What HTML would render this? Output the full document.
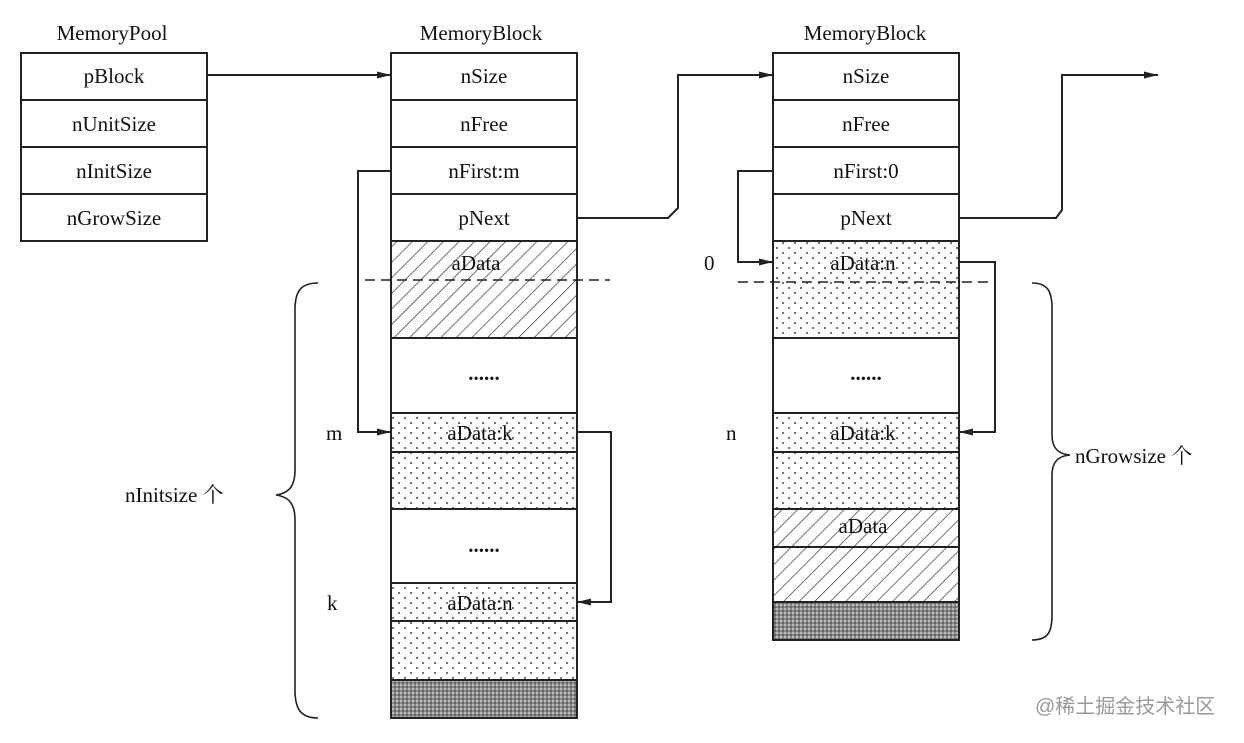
<!DOCTYPE html>
<html><head><meta charset="utf-8"><style>
html,body{margin:0;padding:0;background:#fff;}
svg text{font-family:"Liberation Serif","Noto Serif CJK SC",serif;font-size:21px;fill:#111;}
</style></head><body>
<svg width="1244" height="738" viewBox="0 0 1244 738" xmlns="http://www.w3.org/2000/svg">
<defs>
<pattern id="hatch" width="11" height="11" patternUnits="userSpaceOnUse" patternTransform="rotate(45)">
<line x1="0" y1="0" x2="0" y2="11" stroke="#333" stroke-width="1.4"/>
</pattern>
<pattern id="dots" width="12" height="10" patternUnits="userSpaceOnUse">
<circle cx="3" cy="3" r="1.1" fill="#666"/><circle cx="9" cy="8" r="1.1" fill="#666"/>
</pattern>
<pattern id="dark" width="4" height="4" patternUnits="userSpaceOnUse">
<rect width="4" height="4" fill="#888"/><rect width="2" height="2" fill="#bbb"/><rect x="2" y="2" width="2" height="2" fill="#666"/>
</pattern>
<marker id="ar" markerWidth="14" markerHeight="10" refX="14" refY="5" orient="auto" markerUnits="userSpaceOnUse">
<path d="M0,1.5 L14,5 L0,8.5 Z" fill="#222"/>
</marker>
</defs>
<g stroke="#222" stroke-width="2" fill="none">
<rect x="21" y="53" width="186" height="188" fill="#fff"/>
<line x1="21" y1="100" x2="207" y2="100"/><line x1="21" y1="147" x2="207" y2="147"/><line x1="21" y1="194" x2="207" y2="194"/>
<rect x="391" y="241" width="186" height="97" fill="url(#hatch)"/>
<rect x="391" y="413" width="186" height="96" fill="url(#dots)"/>
<rect x="391" y="583" width="186" height="97" fill="url(#dots)"/>
<rect x="391" y="680" width="186" height="38" fill="url(#dark)"/>
<rect x="391" y="53" width="186" height="665"/>
<line x1="391" y1="100" x2="577" y2="100"/><line x1="391" y1="147" x2="577" y2="147"/><line x1="391" y1="194" x2="577" y2="194"/><line x1="391" y1="241" x2="577" y2="241"/>
<line x1="391" y1="338" x2="577" y2="338"/><line x1="391" y1="413" x2="577" y2="413"/><line x1="391" y1="452" x2="577" y2="452"/><line x1="391" y1="509" x2="577" y2="509"/><line x1="391" y1="583" x2="577" y2="583"/><line x1="391" y1="621" x2="577" y2="621"/><line x1="391" y1="680" x2="577" y2="680"/>
<rect x="773" y="241" width="186" height="97" fill="url(#dots)"/>
<rect x="773" y="413" width="186" height="96" fill="url(#dots)"/>
<rect x="773" y="509" width="186" height="93" fill="url(#hatch)"/>
<rect x="773" y="602" width="186" height="38" fill="url(#dark)"/>
<rect x="773" y="53" width="186" height="587"/>
<line x1="773" y1="100" x2="959" y2="100"/><line x1="773" y1="147" x2="959" y2="147"/><line x1="773" y1="194" x2="959" y2="194"/><line x1="773" y1="241" x2="959" y2="241"/>
<line x1="773" y1="338" x2="959" y2="338"/><line x1="773" y1="413" x2="959" y2="413"/><line x1="773" y1="452" x2="959" y2="452"/><line x1="773" y1="509" x2="959" y2="509"/><line x1="773" y1="547" x2="959" y2="547"/><line x1="773" y1="602" x2="959" y2="602"/>
<line x1="365" y1="280" x2="610" y2="280" stroke-dasharray="10,6" stroke-width="1.6"/>
<line x1="738" y1="282" x2="995" y2="282" stroke-dasharray="10,6" stroke-width="1.6"/>
<polyline points="207,75 391,75" marker-end="url(#ar)"/>
<polyline points="577,218 668,218 678,208 678,75 773,75" marker-end="url(#ar)"/>
<polyline points="959,218 1056,218 1062,210 1062,75 1158,75" marker-end="url(#ar)"/>
<polyline points="391,171 358,171 358,432 391,432" marker-end="url(#ar)"/>
<polyline points="577,432 611,432 611,602 577,602" marker-end="url(#ar)"/>
<polyline points="773,171 738,171 738,262 773,262" marker-end="url(#ar)"/>
<polyline points="959,262 995,262 995,432 959,432" marker-end="url(#ar)"/>
<path d="M318,283 C300,283 295,292 295,310 L295,470 C295,485 290,493 276,495 C290,497 295,505 295,520 L295,690 C295,708 300,718 318,718" stroke-width="1.6"/>
<path d="M1032,283 C1048,283 1052,292 1052,308 L1052,435 C1052,448 1058,454 1070,455 C1058,456 1052,462 1052,475 L1052,615 C1052,632 1048,640 1032,640" stroke-width="1.6"/>
</g>
<g text-anchor="middle">
<text x="112" y="40">MemoryPool</text>
<text x="481" y="40">MemoryBlock</text>
<text x="865" y="40">MemoryBlock</text>
<text x="114" y="83">pBlock</text>
<text x="114" y="131">nUnitSize</text>
<text x="114" y="178">nInitSize</text>
<text x="114" y="225">nGrowSize</text>
<text x="484" y="83">nSize</text>
<text x="484" y="131">nFree</text>
<text x="484" y="178">nFirst:m</text>
<text x="484" y="225">pNext</text>
<text x="476" y="270">aData</text>
<text x="484" y="380" style="font-weight:bold">......</text>
<text x="480" y="440">aData:k</text>
<text x="484" y="552" style="font-weight:bold">......</text>
<text x="480" y="610">aData:n</text>
<text x="866" y="83">nSize</text>
<text x="866" y="131">nFree</text>
<text x="866" y="178">nFirst:0</text>
<text x="866" y="225">pNext</text>
<text x="863" y="270">aData:n</text>
<text x="866" y="380" style="font-weight:bold">......</text>
<text x="863" y="440">aData:k</text>
<text x="863" y="533">aData</text>
</g>
<text x="326" y="440">m</text>
<text x="327" y="610">k</text>
<text x="726" y="440">n</text>
<text x="704" y="270">0</text>
<text x="125" y="502">nInitsize 个</text>
<text x="1075" y="463">nGrowsize 个</text>
<text x="1035" y="713" style="font-family:'Liberation Sans','Noto Sans CJK SC',sans-serif;font-size:20px;fill:#999">@稀土掘金技术社区</text>
</svg>
</body></html>
